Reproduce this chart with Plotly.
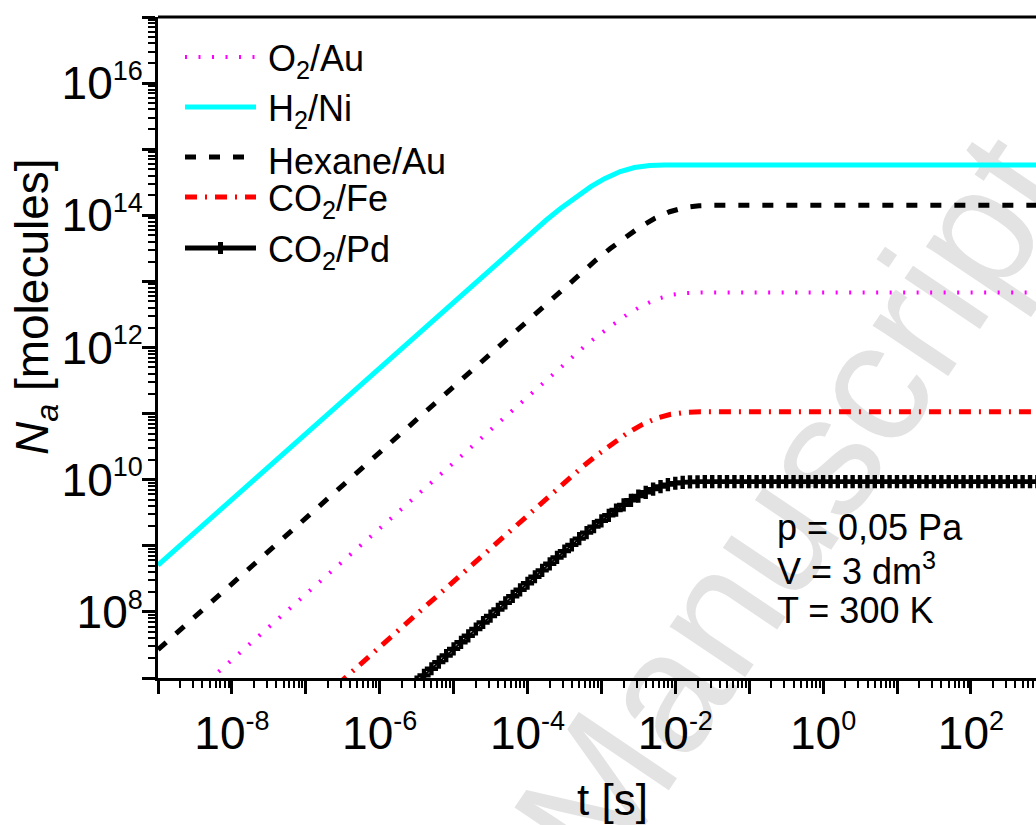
import plotly.graph_objects as go

# ---------------- data ----------------
series_names = ["O<sub>2</sub>/Au", "H<sub>2</sub>/Ni", "Hexane/Au", "CO<sub>2</sub>/Fe", "CO<sub>2</sub>/Pd"]

t_o2 = [1e-9, 3.6e-4, 5.7e-4, 9e-4, 1.43e-3, 2.25e-3, 3.57e-3, 5.7e-3, 9e-3, 1.43e-2, 2.25e-2, 3.6e-2, 1e3]
N_o2 = [1.905e6, 6.52e11, 1.004e12, 1.5165e12, 2.246e12, 3.182e12, 4.303e12, 5.428e12, 6.262e12,
        6.686e12, 6.797e12, 6.81e12, 6.81e12]

t_h2 = [1e-9, 1.1e-4, 1.8e-4, 2.8e-4, 4.5e-4, 7.2e-4, 1.1e-3, 1.8e-3, 2.8e-3, 4.5e-3, 7.2e-3, 1.1e-2, 1e3]
N_h2 = [5.09e8, 5.34e13, 8.48e13, 1.264e14, 1.892e14, 2.715e14, 3.587e14, 4.596e14, 5.290e14,
        5.670e14, 5.770e14, 5.78e14, 5.78e14]

t_hex = [1e-9, 5.3e-4, 8.4e-4, 1.32e-3, 2.1e-3, 3.3e-3, 5.3e-3, 8.4e-3, 1.32e-2, 2.1e-2, 3.3e-2, 5.3e-2, 1e3]
N_hex = [2.69e7, 1.353e13, 2.090e13, 3.145e13, 4.666e13, 6.608e13, 9.010e13, 1.1324e14, 1.3053e14,
         1.3953e14, 1.4193e14, 1.422e14, 1.422e14]

t_fe = [1e-9, 3.5e-4, 5.5e-4, 8.7e-4, 1.4e-3, 2.2e-3, 3.5e-3, 5.5e-3, 8.7e-3, 1.4e-2, 2.2e-2, 3.5e-2, 1e3]
N_fe = [3.06e4, 1.018e10, 1.556e10, 2.354e10, 3.526e10, 4.990e10, 6.756e10, 8.463e10, 9.788e10,
        1.0477e11, 1.0650e11, 1.067e11, 1.067e11]

t_pd = [3.16e-6, 3.98e-6, 5.01e-6, 6.31e-6, 7.94e-6,
        1e-5, 1.26e-5, 1.58e-5, 2e-5, 2.51e-5, 3.16e-5, 3.98e-5, 5.01e-5, 6.31e-5, 7.94e-5,
        1e-4, 1.26e-4, 1.58e-4, 2e-4, 2.51e-4, 3.16e-4, 3.98e-4, 5.01e-4, 6.31e-4, 7.94e-4,
        1e-3, 1.26e-3, 1.58e-3, 2e-3, 2.51e-3, 3.16e-3, 3.98e-3, 5.01e-3, 6.31e-3, 7.94e-3,
        1e-2, 1.26e-2, 1.58e-2, 2e-2, 2.51e-2, 3.16e-2, 3.98e-2, 5.01e-2, 6.31e-2, 7.94e-2,
        0.1, 0.126, 0.158, 0.2, 0.251, 0.316, 0.398, 0.501, 0.631, 0.794,
        1, 1.26, 1.58, 2, 2.51, 3.16, 3.98, 5.01, 6.31, 7.94,
        10, 12.6, 15.8, 20, 25.1, 31.6, 39.8, 50.1, 63.1, 79.4,
        100, 126, 158, 200, 251, 316, 398, 501, 631, 794, 1000]
N_pd = [8.70e6, 1.096e7, 1.380e7, 1.738e7, 2.187e7,
        2.754e7, 3.47e7, 4.35e7, 5.51e7, 6.91e7, 8.66e7, 1.090e8, 1.370e8, 1.722e8, 2.161e8,
        2.714e8, 3.405e8, 4.249e8, 5.345e8, 6.659e8, 8.304e8, 1.0335e9, 1.282e9, 1.584e9, 1.948e9,
        2.383e9, 2.896e9, 3.476e9, 4.158e9, 4.880e9, 5.657e9, 6.446e9, 7.202e9, 7.879e9, 8.433e9,
        8.842e9, 9.103e9, 9.242e9, 9.304e9, 9.324e9, 9.33e9, 9.33e9, 9.33e9, 9.33e9, 9.33e9,
        9.33e9, 9.33e9, 9.33e9, 9.33e9, 9.33e9, 9.33e9, 9.33e9, 9.33e9, 9.33e9, 9.33e9,
        9.33e9, 9.33e9, 9.33e9, 9.33e9, 9.33e9, 9.33e9, 9.33e9, 9.33e9, 9.33e9, 9.33e9,
        9.33e9, 9.33e9, 9.33e9, 9.33e9, 9.33e9, 9.33e9, 9.33e9, 9.33e9, 9.33e9, 9.33e9,
        9.33e9, 9.33e9, 9.33e9, 9.33e9, 9.33e9, 9.33e9, 9.33e9, 9.33e9, 9.33e9, 9.33e9, 9.33e9]

x_exponents = [-9, -8, -7, -6, -5, -4, -3, -2, -1, 0, 1, 2]
x_exp_labels = ["", "-8", "", "-6", "", "-4", "", "-2", "", "0", "", "2"]
y_exponents = [7, 8, 9, 10, 11, 12, 13, 14, 15, 16, 17]
y_exp_labels = ["", "8", "", "10", "", "12", "", "14", "", "16", ""]

conditions = ["p = 0,05 Pa", "V = 3 dm<sup>3</sup>", "T = 300 K"]

# ---------------- layout geometry ----------------
W, H = 1036, 825
ML, MR, MT, MB = 158, 0, 17, 147
PW, PH = W - ML - MR, H - MT - MB
FONT = "Liberation Sans, Arial, sans-serif"


def px(x):
    return (x - ML) / PW


def py(y):
    return (H - MB - y) / PH


def pow_label(e):
    if e == "":
        return ""
    return "10<sup><span style='font-size:27px'>" + e + "</span></sup>"


colors = ["#ff00ff", "#00ffff", "#000000", "#ff0000", "#000000"]
dashes = ["2px,11.5px", "solid", "11px,13px", "12px,8px,2px,8px", "solid"]
widths = [4, 5, 5, 5, 2]

fig = go.Figure()
for t, n, c, d, w in [(t_o2, N_o2, colors[0], dashes[0], widths[0]),
                      (t_h2, N_h2, colors[1], dashes[1], widths[1]),
                      (t_hex, N_hex, colors[2], dashes[2], widths[2]),
                      (t_fe, N_fe, colors[3], dashes[3], widths[3])]:
    fig.add_trace(go.Scatter(x=t, y=n, mode="lines", showlegend=False,
                             line=dict(color=c, width=w, dash=d)))
fig.add_trace(go.Scatter(x=t_pd, y=N_pd, mode="lines+markers", showlegend=False,
                         line=dict(color="black", width=widths[4]),
                         marker=dict(symbol="cross", size=11, color="black",
                                     line=dict(width=0))))

x_minor = [m * 10.0 ** e for e in x_exponents for m in range(2, 10)]
y_minor = [m * 10.0 ** e for e in y_exponents[:-1] for m in range(2, 10)]

fig.update_xaxes(type="log", range=[-9, 2.881], showline=True, linecolor="black", linewidth=3,
                 ticks="outside", ticklen=13, tickwidth=2.5, tickcolor="black",
                 tickmode="array", tickvals=[10.0 ** e for e in x_exponents],
                 ticktext=[pow_label(s) for s in x_exp_labels],
                 tickfont=dict(size=46, family=FONT, color="black"),
                 showgrid=False, zeroline=False,
                 minor=dict(tickmode="array", tickvals=x_minor, ticks="outside", ticklen=7,
                            tickwidth=2, tickcolor="black", showgrid=False))
fig.update_yaxes(type="log", range=[7, 17], showline=True, linecolor="black", linewidth=3,
                 ticks="outside", ticklen=13, tickwidth=2.5, tickcolor="black",
                 tickmode="array", tickvals=[10.0 ** e for e in y_exponents],
                 ticktext=[pow_label(s) for s in y_exp_labels],
                 tickfont=dict(size=46, family=FONT, color="black"), ticklabelstandoff=-10,
                 showgrid=False, zeroline=False,
                 minor=dict(tickmode="array", tickvals=y_minor, ticks="outside", ticklen=7,
                            tickwidth=2, tickcolor="black", showgrid=False))

shapes = []
# top frame line
shapes.append(dict(type="line", xref="paper", yref="paper", x0=0, x1=1, y0=1, y1=1,
                   line=dict(color="black", width=3)))
# watermark
cx, cy, dx, dy = 777, 494, 0.559, -0.829
shapes.append(dict(type="line", xref="paper", yref="paper", layer="below",
                   x0=px(cx - 100 * dx), y0=py(cy - 100 * dy), x1=px(cx + 100 * dx), y1=py(cy + 100 * dy),
                   line=dict(color="rgba(0,0,0,0)", width=0),
                   label=dict(text="Manuscript", textposition="middle", yanchor="middle",
                              font=dict(size=172, family=FONT, color="#e3e3e3"))))

# manual legend
leg_y = [57, 107, 157, 197, 248]
for i in range(5):
    shapes.append(dict(type="line", xref="paper", yref="paper",
                       x0=px(185), x1=px(256), y0=py(leg_y[i]), y1=py(leg_y[i]),
                       line=dict(color=colors[i], width=5 if i != 0 else 4,
                                 dash=dashes[i] if i != 4 else "solid")))
shapes.append(dict(type="rect", xref="paper", yref="paper",
                   x0=px(218), x1=px(223), y0=py(254), y1=py(242),
                   line=dict(width=0), fillcolor="black"))

annotations = []
for i in range(5):
    annotations.append(dict(xref="paper", yref="paper", x=px(266), y=py(leg_y[i] + 4),
                            xanchor="left", yanchor="middle", showarrow=False,
                            text=series_names[i], font=dict(size=36, family=FONT, color="black")))
cond_y = [527, 569, 610]
for s, yy in zip(conditions, cond_y):
    annotations.append(dict(xref="paper", yref="paper", x=px(775), y=py(yy),
                            xanchor="left", yanchor="middle", showarrow=False,
                            text=s, font=dict(size=36, family=FONT, color="black")))
annotations.append(dict(xref="paper", yref="paper", x=px(612), y=py(799),
                        xanchor="center", yanchor="middle", showarrow=False,
                        text="t [s]", font=dict(size=44, family=FONT, color="black")))
annotations.append(dict(xref="paper", yref="paper", x=px(36), y=py(307),
                        xanchor="center", yanchor="middle", showarrow=False, textangle=-90,
                        text="<i>N</i><sub><i>a</i></sub> [molecules]",
                        font=dict(size=46, family=FONT, color="black")))

fig.update_layout(width=W, height=H, margin=dict(l=ML, r=MR, t=MT, b=MB, autoexpand=False),
                  paper_bgcolor="white", plot_bgcolor="rgba(0,0,0,0)",
                  showlegend=False, shapes=shapes, annotations=annotations)

fig.write_html("out.html")
